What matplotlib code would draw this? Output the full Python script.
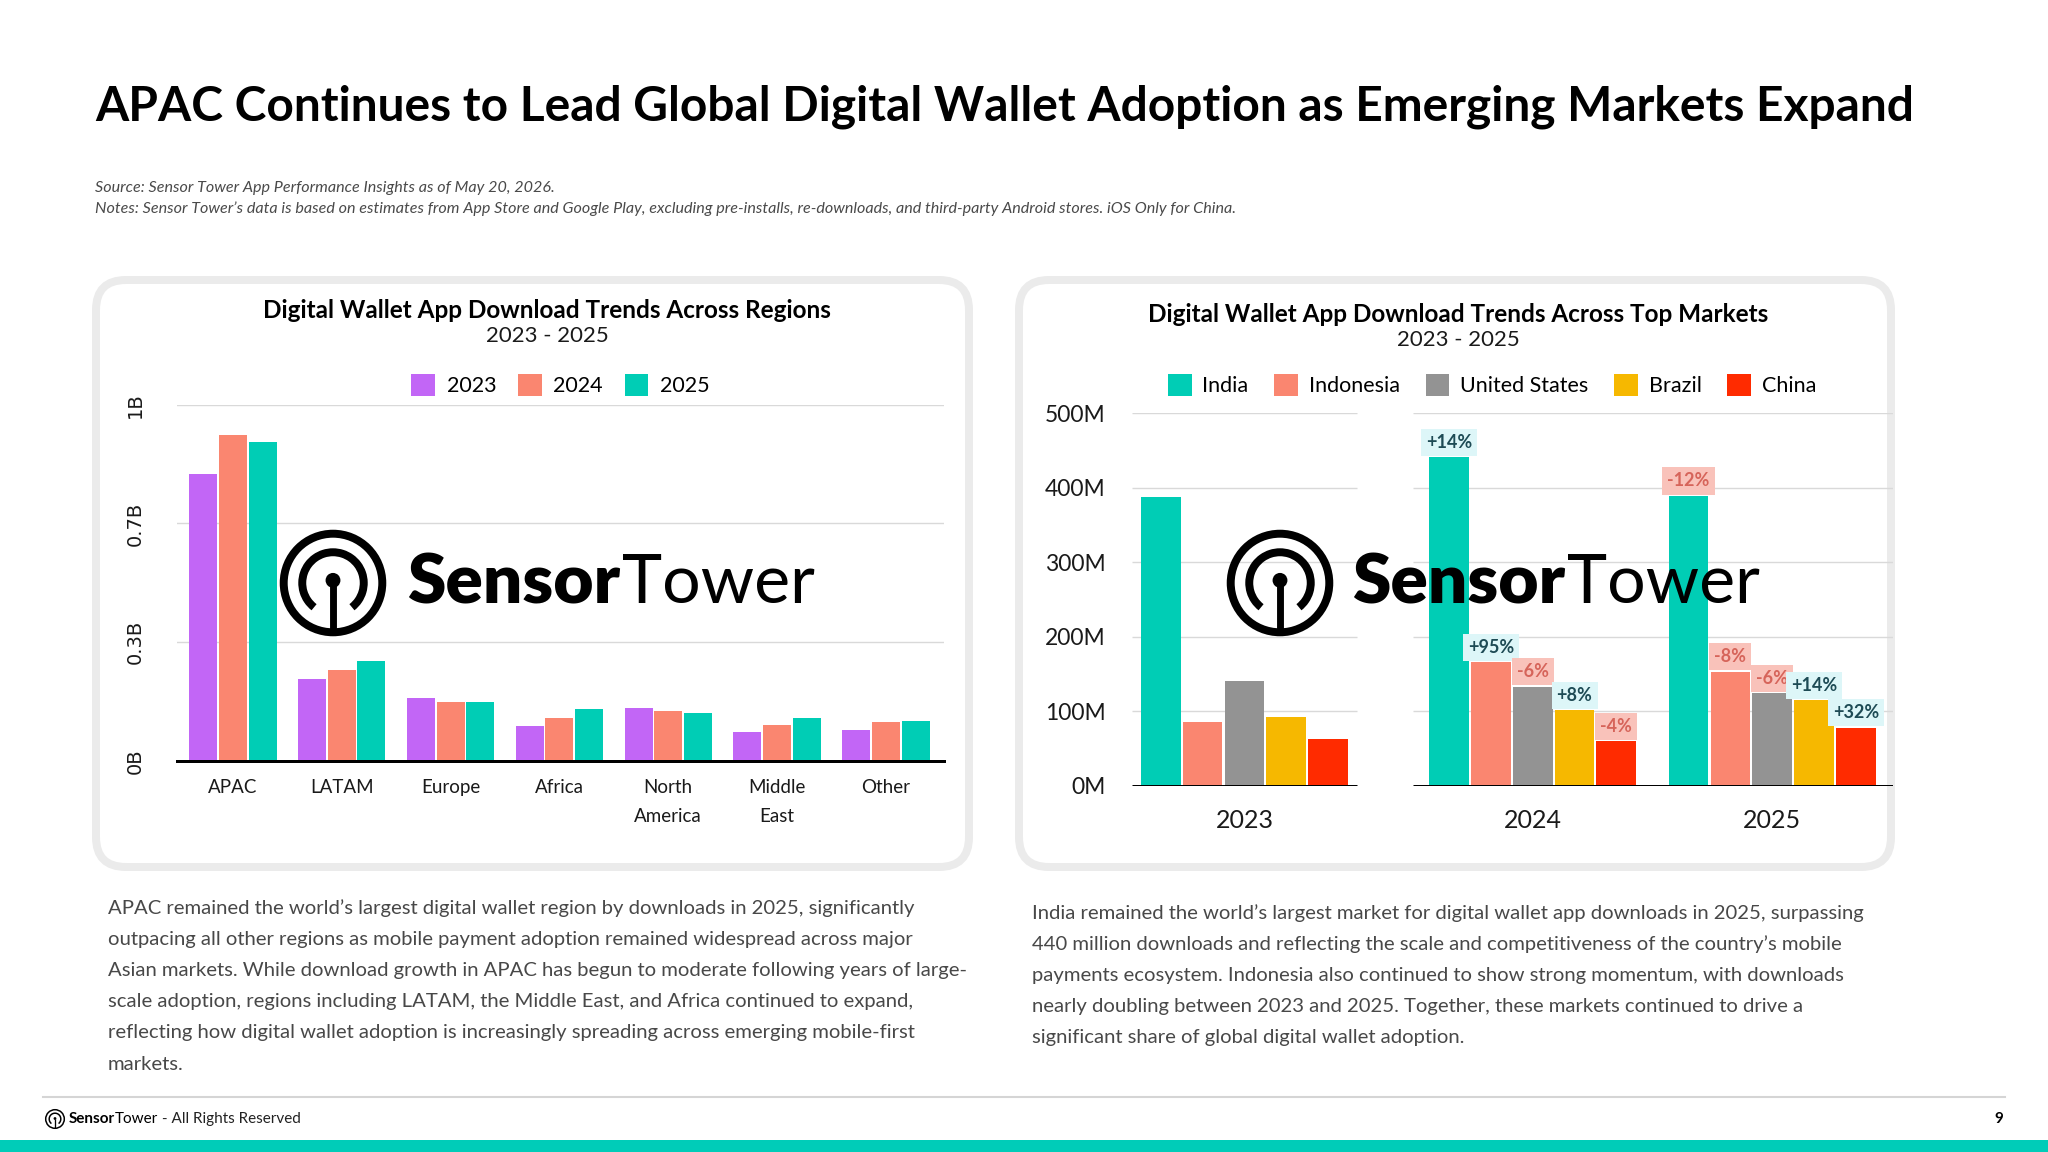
import matplotlib
matplotlib.use('Agg')
import matplotlib.pyplot as plt
from matplotlib.patches import FancyBboxPatch, Circle, Arc, Rectangle
import numpy as np

# ---------------- data ----------------
regions = ['APAC', 'LATAM', 'Europe', 'Africa', 'North\nAmerica', 'Middle\nEast', 'Other']
region_years = ['2023', '2024', '2025']
region_2023 = [0.806, 0.231, 0.177, 0.099, 0.148, 0.082, 0.086]
region_2024 = [0.915, 0.254, 0.166, 0.121, 0.140, 0.101, 0.110]
region_2025 = [0.896, 0.281, 0.166, 0.146, 0.135, 0.121, 0.113]
region_yticks = [0, 1 / 3, 2 / 3, 1.0]
region_yticklabels = ['0B', '0.3B', '0.7B', '1B']

markets = ['India', 'Indonesia', 'United States', 'Brazil', 'China']
market_years = ['2023', '2024', '2025']
market_2023 = [387, 85, 141, 92, 63]
market_2024 = [441, 166, 133, 101, 60]
market_2025 = [389, 153, 124, 115, 78]
change_2024 = ['+14%', '+95%', '-6%', '+8%', '-4%']
change_2025 = ['-12%', '-8%', '-6%', '+14%', '+32%']
market_yticks = [0, 100, 200, 300, 400, 500]
market_yticklabels = ['0M', '100M', '200M', '300M', '400M', '500M']

title = 'APAC Continues to Lead Global Digital Wallet Adoption as Emerging Markets Expand'
source_lines = [
    'Source: Sensor Tower App Performance Insights as of May 20, 2026.',
    "Notes: Sensor Tower\u2019s data is based on estimates from App Store and Google Play, excluding pre-installs, re-downloads, and third-party Android stores. iOS Only for China.",
]
left_text = [
    "APAC remained the world\u2019s largest digital wallet region by downloads in 2025, significantly",
    "outpacing all other regions as mobile payment adoption remained widespread across major",
    "Asian markets. While download growth in APAC has begun to moderate following years of large-",
    "scale adoption, regions including LATAM, the Middle East, and Africa continued to expand,",
    "reflecting how digital wallet adoption is increasingly spreading across emerging mobile-first",
    "markets.",
]
right_text = [
    "India remained the world\u2019s largest market for digital wallet app downloads in 2025, surpassing",
    "440 million downloads and reflecting the scale and competitiveness of the country\u2019s mobile",
    "payments ecosystem. Indonesia also continued to show strong momentum, with downloads",
    "nearly doubling between 2023 and 2025. Together, these markets continued to drive a",
    "significant share of global digital wallet adoption.",
]

# ---------------- style ----------------
FONT = 'Lato'
plt.rcParams['font.family'] = [FONT, 'DejaVu Sans']
region_colors = ['#C266F6', '#FA8670', '#00CDB5']
market_colors = ['#00CDB5', '#FA8670', '#939393', '#F6B800', '#FF2B00']
POS_BG, POS_FG = '#DDF6F8', '#1E4B55'
NEG_BG, NEG_FG = '#F9C2BA', '#D6645A'
GRID = '#D9D9D9'
TXT = '#1A1A1A'

W, H = 2048, 1152
PT = 72 / 100.0
fig = plt.figure(figsize=(W / 100, H / 100), dpi=100)
fig.patch.set_facecolor('white')

bg = fig.add_axes([0, 0, 1, 1], zorder=0)
bg.set_xlim(0, W); bg.set_ylim(H, 0); bg.axis('off')

# cards
for x0, x1 in [(96, 969), (1019, 1891)]:
    bg.add_patch(FancyBboxPatch((x0, 280), x1 - x0, 867 - 280,
                                boxstyle='round,pad=0,rounding_size=30',
                                fc='white', ec='#EBEBEB', lw=8 * PT))

# header
bg.text(95, 107, title, fontsize=34.5, fontweight='bold', color='black', va='center', ha='left')
for i, s in enumerate(source_lines):
    bg.text(95, 188 + i * 21, s, fontsize=11.6, style='italic', color='#4A4A4A',
            va='center', ha='left')

# body paragraphs
for i, s in enumerate(left_text):
    bg.text(108, 908 + i * 31.2, s, fontsize=14.6, color='#484848', va='center', ha='left')
for i, s in enumerate(right_text):
    bg.text(1032, 913 + i * 31.2, s, fontsize=14.6, color='#484848', va='center', ha='left')

# footer
bg.plot([43, 2005], [1097, 1097], color='#D5D5D5', lw=1.5)
bg.add_patch(Rectangle((0, 1140), W, 12, fc='#00CCB8', ec='none'))
bg.text(2003, 1119, '9', fontsize=11, fontweight='bold', ha='right', va='center', color='black')

# chart titles
bg.text(547, 311, 'Digital Wallet App Download Trends Across Regions', fontsize=17.5,
        fontweight='bold', ha='center', va='center', color='black')
bg.text(547, 336, '2023 - 2025', fontsize=16, ha='center', va='center', color=TXT)
bg.text(1458, 315, 'Digital Wallet App Download Trends Across Top Markets', fontsize=17.5,
        fontweight='bold', ha='center', va='center', color='black')
bg.text(1458, 340, '2023 - 2025', fontsize=16, ha='center', va='center', color=TXT)

# ---------------- left chart ----------------
axL = fig.add_axes([177 / W, 1 - 760.9 / H, 767 / W, (760.9 - 404.7) / H], zorder=2)
axL.patch.set_alpha(0)
xg = np.arange(len(regions))
step, bw = 0.273, 0.258
for i, vals in enumerate([region_2023, region_2024, region_2025]):
    axL.bar(xg + (i - 1) * step, vals, bw, color=region_colors[i], label=region_years[i], zorder=2)
axL.set_xlim(-0.513, 6.533)
axL.set_ylim(0, 1.0)
axL.set_yticks(region_yticks)
axL.set_yticklabels(region_yticklabels, rotation=90, va='center', fontfamily='DejaVu Sans',
                    fontsize=14, color=TXT)
axL.set_xticks(xg)
axL.set_xticklabels(regions, fontsize=13.5, color=TXT, linespacing=1.85)
axL.tick_params(axis='y', length=0, pad=23)
axL.tick_params(axis='x', length=0, pad=13)
axL.grid(axis='y', color=GRID, lw=1, zorder=0)
axL.set_axisbelow(True)
for s in ['top', 'right', 'left']:
    axL.spines[s].set_visible(False)
axL.spines['bottom'].set_color('black')
axL.spines['bottom'].set_linewidth(3 * PT)
axL.spines['bottom'].set_zorder(3)
axL.legend(loc='center', bbox_to_anchor=(0.5, 1.055), ncol=3, frameon=False, fontsize=15.5,
           handlelength=1.1, handleheight=1.2, handletextpad=0.55, columnspacing=1.0)

# ---------------- right chart ----------------
axR = fig.add_axes([1132 / W, 1 - 785.7 / H, 761 / W, (785.7 - 413) / H], zorder=2)
axR.patch.set_alpha(0)
centers = np.array([0, 6.9, 12.63])
offsets = np.arange(len(markets)) - 2
series = [market_2023, market_2024, market_2025]
for j, m in enumerate(markets):
    vals = [series[k][j] for k in range(3)]
    axR.bar(centers + offsets[j], vals, 0.95, color=market_colors[j], label=m, zorder=2)
xlo, xhi = -2.69, 15.52
segments = [(xlo, 2.70), (4.04, xhi)]
for yv in market_yticks[1:]:
    for a, b in segments:
        axR.hlines(yv, a, b, color=GRID, lw=1, zorder=0)
for a, b in segments:
    axR.hlines(0, a, b, color='black', lw=3 * PT, zorder=3)
axR.set_xlim(xlo, xhi)
axR.set_ylim(0, 500)
axR.set_yticks(market_yticks)
axR.set_yticklabels(market_yticklabels, fontsize=16.5, color=TXT)
axR.set_xticks(centers)
axR.set_xticklabels(market_years, fontsize=18, color=TXT)
axR.tick_params(axis='y', length=0, pad=19)
axR.tick_params(axis='x', length=0, pad=17)
for s in axR.spines.values():
    s.set_visible(False)

for k, changes in [(1, change_2024), (2, change_2025)]:
    for j, lab in enumerate(changes):
        pos = lab.startswith('+')
        axR.annotate(lab, (centers[k] + offsets[j], series[k][j]), xytext=(0, 4.5),
                     textcoords='offset points', ha='center', va='bottom', fontsize=13,
                     fontweight='bold', color=POS_FG if pos else NEG_FG, zorder=4,
                     bbox=dict(boxstyle='square,pad=0.28', fc=POS_BG if pos else NEG_BG, ec='none'))

axR.legend(loc='center', bbox_to_anchor=(0.473, 1.076), ncol=5, frameon=False, fontsize=15.5,
           handlelength=1.1, handleheight=1.2, handletextpad=0.5, columnspacing=1.2)

# ---------------- watermark logos ----------------
fg = fig.add_axes([0, 0, 1, 1], zorder=5)
fg.set_xlim(0, W); fg.set_ylim(H, 0); fg.axis('off')


def draw_logo(ax, cx, cy, R, tx, fs1, fs2, with_word=True):
    ax.add_patch(Circle((cx, cy), R * 0.93, fill=False, ec='black', lw=R * 0.15 * PT))
    ax.add_patch(Arc((cx, cy), 2 * R * 0.58, 2 * R * 0.58, theta1=128, theta2=412,
                     ec='black', lw=R * 0.15 * PT))
    ax.add_patch(Circle((cx, cy - R * 0.05), R * 0.14, fc='black', ec='none'))
    ax.plot([cx, cx], [cy - R * 0.05, cy + R * 0.93], color='black', lw=R * 0.13 * PT,
            solid_capstyle='butt')
    if with_word:
        t1 = ax.text(tx, cy + R * 0.02, 'Sensor', fontsize=fs1, fontweight='heavy', color='black',
                     ha='left', va='center')
        fig.canvas.draw()
        bb = t1.get_window_extent()
        inv = ax.transData.inverted()
        x_end = inv.transform((bb.x1, bb.y0))[0]
        ax.text(x_end + 2, cy + R * 0.02, 'Tower', fontsize=fs2, color='black',
                ha='left', va='center')


draw_logo(fg, 333, 583, 53, 407, 50, 49)
draw_logo(fg, 1280, 583, 53, 1352, 50, 49)

# footer logo + text
draw_logo(fg, 55, 1119, 10, 0, 0, 0, with_word=False)
t1 = fg.text(69, 1119, 'Sensor', fontsize=11, fontweight='bold', ha='left', va='center')
fig.canvas.draw()
xe = fg.transData.inverted().transform((t1.get_window_extent().x1, 0))[0]
fg.text(xe, 1119, 'Tower', fontsize=11, ha='left', va='center')
fig.canvas.draw()
t2 = fg.texts[-1]
xe2 = fg.transData.inverted().transform((t2.get_window_extent().x1, 0))[0]
fg.text(xe2, 1119, ' - All Rights Reserved', fontsize=11, ha='left', va='center', color='#222222')

fig.savefig('out.png', dpi=100, facecolor='white')
